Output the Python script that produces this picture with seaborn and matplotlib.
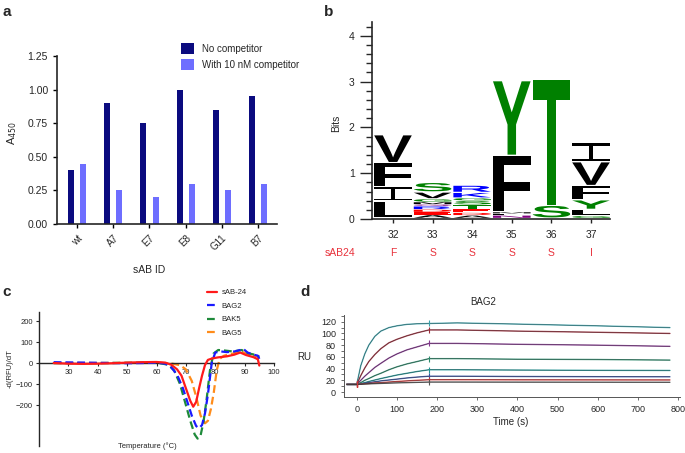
import numpy as np
import pandas as pd
import matplotlib
matplotlib.use("Agg")
import matplotlib.pyplot as plt
import seaborn as sns
from matplotlib.textpath import TextPath
from matplotlib.patches import PathPatch, Rectangle
from matplotlib.font_manager import FontProperties
from matplotlib.transforms import Affine2D
from matplotlib.ticker import MultipleLocator

# === Panel a: ELISA competition data ===
sab_ids = ["wt", "A7", "E7", "E8", "G11", "B7"]
no_competitor = [0.40, 0.90, 0.75, 1.00, 0.85, 0.95]
with_competitor = [0.45, 0.25, 0.20, 0.30, 0.25, 0.30]
conditions = ["No competitor", "With 10 nM competitor"]

# === Panel b: sequence logo (letters stacked bottom -> top, heights in bits) ===
logo_positions = [32, 33, 34, 35, 36, 37]
logo_letters = [
    ["L", "I", "F", "V"],
    ["A", "E", "D", "R", "Q", "M", "G", "V", "S"],
    ["A", "D", "E", "T", "S", "G", "K", "R"],
    ["N", "L", "M", "F", "Y"],
    ["S", "T"],
    ["G", "L", "Y", "F", "V", "I"],
]
logo_heights = [
    [0.37, 0.32, 0.52, 0.61],
    [0.07, 0.06, 0.06, 0.07, 0.04, 0.05, 0.07, 0.15, 0.21],
    [0.06, 0.06, 0.08, 0.09, 0.09, 0.06, 0.12, 0.16],
    [0.06, 0.04, 0.03, 1.24, 1.63],
    [0.28, 2.75],
    [0.05, 0.14, 0.21, 0.31, 0.52, 0.42],
]
sab24_residues = ["F", "S", "S", "S", "S", "I"]

# === Panel c: thermal melt derivative curves ===
t_sab24 = [25, 30, 35, 40, 45, 50, 55, 60, 63, 65, 67, 68.5, 70, 71.5, 72.5, 73.5, 74.5,
           75.5, 76.5, 77.5, 79, 81, 84, 86.5, 88.5, 90.5, 93, 94.5, 95]
v_sab24 = [0, -3, -4, -3, -1, 2, 4, 5, 2, -8, -30, -60, -120, -180, -208, -185, -120,
           -60, -10, 15, 22, 27, 32, 40, 50, 38, 28, 18, -12]
t_bag2 = [25, 30, 35, 40, 45, 50, 55, 60, 63, 65, 67, 69, 70.5, 72, 73.5, 74.5, 75.5,
          76.5, 77.5, 78.8, 80, 82, 84, 86.5, 88.5, 89.5, 91, 93, 94.5, 95]
v_bag2 = [4, 3, 2, 1, 0, -1, 0, 2, -3, -20, -55, -120, -185, -250, -300, -310, -295,
          -240, -150, 0, 50, 55, 52, 55, 62, 68, 50, 40, 35, 20]
t_bak5 = [25, 30, 40, 50, 60, 64, 66, 68, 70, 71.5, 73, 74, 75, 76, 77, 78.2, 79.4,
          81, 83, 86, 89, 91.3, 94, 95]
v_bak5 = [0, 0, 0, 1, 2, -8, -35, -100, -200, -275, -340, -360, -345, -280, -180, -35, 45,
          62, 60, 55, 62, 46, 38, 30]
t_bag5 = [25, 30, 40, 50, 60, 65, 68, 70, 72, 73.5, 75, 76.5, 77.5, 78.5, 79.5, 80.5,
          81.5, 83, 86, 88.5, 91.5, 94, 95]
v_bag5 = [0, 0, 0, 1, 2, -2, -10, -30, -85, -160, -250, -287, -275, -220, -140, -35,
          20, 35, 45, 57, 40, 33, 25]

# === Panel d: SPR sensorgrams for BAG2 ===
spr_time = [-25, 0, 10, 20, 30, 45, 60, 80, 100, 125, 150, 180, 250, 400, 600, 780]
spr_curves = [
    [13, 13, 45, 65, 80, 95, 104, 110, 113, 115.5, 116.5, 117, 118, 116, 113, 110],
    [13, 13, 28, 41, 52, 64, 74, 84, 90, 96, 101, 106, 106, 104, 102, 100],
    [13, 13, 20, 27, 33, 42, 49, 58, 65, 72, 77, 83, 83, 81.5, 80, 78],
    [13, 13, 16, 20, 23, 28, 32, 38, 43, 48, 52, 57, 57, 56, 55.5, 54.5],
    [13, 13, 14.5, 16, 18, 20.5, 23, 26, 29, 32, 35, 38, 38, 37.5, 37, 36.8],
    [13, 13, 14, 15, 16, 17.5, 19, 20.5, 22, 24, 25.5, 27, 27, 26.5, 26.2, 26],
    [13, 13, 13.5, 14, 14.5, 15.5, 16, 17, 18, 19, 20, 21, 21, 20.8, 20.7, 20.6],
    [13, 13, 13.3, 13.6, 13.9, 14.3, 14.7, 15.2, 15.6, 16, 16.5, 17, 17, 16.9, 16.8, 16.7],
]
spr_colors = ["#3a9fa8", "#9a2c3a", "#84378f", "#2c8a6c", "#1f9494", "#3550a0", "#cf3434", "#555555"]

# === Figure setup ===
sns.set_style("ticks")
plt.rcParams['font.family'] = ['Liberation Sans', 'DejaVu Sans']
plt.rcParams['axes.linewidth'] = 1.0

W, H = 685, 453
fig = plt.figure(figsize=(W / 100, H / 100), dpi=100)


def box(l, t, r, b):
    return [l / W, 1 - b / H, (r - l) / W, (b - t) / H]


# ---------- panel a ----------
ax_a = fig.add_axes(box(57, 56, 277, 224))
df_a = pd.DataFrame({
    "sab": sab_ids * 2,
    "condition": [conditions[0]] * len(sab_ids) + [conditions[1]] * len(sab_ids),
    "a450": no_competitor + with_competitor,
})
sns.barplot(data=df_a, x="sab", y="a450", hue="condition", order=sab_ids, hue_order=conditions,
            palette={conditions[0]: "#0b0b7f", conditions[1]: "#6e6eff"}, saturation=1,
            width=0.67, gap=0.5, linewidth=0, errorbar=None, ax=ax_a)
ax_a.set_xlim(-0.56, 5.53)
ax_a.set_ylim(0, 1.25)
ax_a.set_yticks([0, 0.25, 0.5, 0.75, 1.0, 1.25])
ax_a.set_yticklabels(["0.00", "0.25", "0.50", "0.75", "1.00", "1.25"], fontsize=7.5)
ax_a.set_xticks(range(len(sab_ids)))
ax_a.set_xticklabels(sab_ids, rotation=45, ha="right", rotation_mode="anchor", fontsize=7)
ax_a.tick_params(length=3, width=1, color="black")
sns.despine(ax=ax_a)
for s in ax_a.spines.values():
    s.set_linewidth(1.2)
ax_a.set_xlabel("sAB ID", fontsize=7.5)
ax_a.xaxis.set_label_coords(0.42, -0.274)
ax_a.xaxis.label.set_va("center")
ax_a.set_ylabel("A$_{450}$", fontsize=8)
ax_a.yaxis.set_label_coords(-0.205, 0.54)
ax_a.yaxis.label.set(va="center", ha="center")
ax_a.legend(loc="upper left", bbox_to_anchor=(181 / W, 1 - 43 / H), bbox_transform=fig.transFigure,
            frameon=False, fontsize=7, handlelength=1.3, handleheight=1.3, labelspacing=0.55,
            handletextpad=0.9, borderpad=0, borderaxespad=0)

# ---------- panel b ----------
ax_b = fig.add_axes(box(372, 22, 610, 219))
letter_colors = {}
for ch in "GSTYC":
    letter_colors[ch] = "#008000"
for ch in "KRH":
    letter_colors[ch] = "#0000ff"
for ch in "DE":
    letter_colors[ch] = "#ff0000"
for ch in "NQ":
    letter_colors[ch] = "#800080"
for ch in "AVLIPWFM":
    letter_colors[ch] = "#000000"

fp_sans = FontProperties(family="Liberation Sans", weight="bold")
col_width = 0.95
for pos, letters, heights in zip(logo_positions, logo_letters, logo_heights):
    base = 0.02
    for ch, h in zip(letters, heights):
        pad = min(0.015, h * 0.1)
        y0, hh = base + pad, h - 2 * pad
        if ch == "I":
            # serif "I": two thin full-width bars joined by a thin stem
            bar = hh * 0.14
            stem = col_width * 0.1
            for yb in (y0, y0 + hh - bar):
                ax_b.add_patch(Rectangle((pos - col_width / 2, yb), col_width, bar,
                                         fc=letter_colors[ch], ec="none"))
            ax_b.add_patch(Rectangle((pos - stem / 2, y0), stem, hh, fc=letter_colors[ch], ec="none"))
        else:
            tp = TextPath((0, 0), ch, size=1, prop=fp_sans)
            bb = tp.get_extents()
            tr = (Affine2D().translate(-bb.x0, -bb.y0)
                  .scale(col_width / bb.width, hh / bb.height)
                  .translate(pos - col_width / 2, y0))
            ax_b.add_patch(PathPatch(tr.transform_path(tp), fc=letter_colors[ch], ec="none"))
        base += h
ax_b.set_xlim(31.47, 37.48)
ax_b.set_ylim(0, 4.3)
ax_b.set_xticks(logo_positions)
ax_b.set_xticklabels([str(p) for p in logo_positions], fontsize=7.5)
ax_b.set_yticks([0, 1, 2, 3, 4])
ax_b.set_yticklabels(["0", "1", "2", "3", "4"], fontsize=7.5)
ax_b.yaxis.set_minor_locator(MultipleLocator(0.2))
ax_b.tick_params(axis="y", which="major", length=9, width=1)
ax_b.tick_params(axis="y", which="minor", length=4, width=1)
ax_b.tick_params(axis="x", length=3, width=1, pad=5)
sns.despine(ax=ax_b)
for s in ax_b.spines.values():
    s.set_linewidth(1.2)
ax_b.set_ylabel("Bits", fontsize=7.5)
ax_b.yaxis.set_label_coords(-0.151, 0.487)
ax_b.yaxis.label.set(va="center", ha="center")
red_txt = "#e8323c"
btrans = ax_b.get_xaxis_transform()
ax_b.text(31.05, -0.173, "sAB24", color=red_txt, fontsize=7.5, ha="right", va="center", transform=btrans)
for pos, res in zip(logo_positions, sab24_residues):
    ax_b.text(pos, -0.173, res, color=red_txt, fontsize=7.5, ha="center", va="center", transform=btrans)

# ---------- panel c ----------
ax_c = fig.add_axes(box(39, 312, 274, 446))
sns.lineplot(x=t_sab24, y=v_sab24, color="#ff1a1a", lw=1.6, label="sAB-24", zorder=5, ax=ax_c)
sns.lineplot(x=t_bag2, y=v_bag2, color="#1a1aff", lw=1.6, ls=(0, (3.5, 1.8)), label="BAG2", zorder=4, ax=ax_c)
sns.lineplot(x=t_bak5, y=v_bak5, color="#1e8a3a", lw=1.6, ls=(0, (3.5, 1.8)), label="BAK5", zorder=3, ax=ax_c)
sns.lineplot(x=t_bag5, y=v_bag5, color="#ff8c1a", lw=1.6, ls=(0, (3.5, 1.8)), label="BAG5", zorder=2, ax=ax_c)
ax_c.set_xlim(20, 100)
ax_c.set_ylim(-395, 243)
ax_c.spines["bottom"].set_position(("data", 0))
sns.despine(ax=ax_c)
ax_c.set_xticks(range(30, 101, 10))
ax_c.set_yticks([-200, -100, 0, 100, 200])
ax_c.tick_params(labelsize=5.5, length=2.5, width=0.8, pad=2)
ax_c.set_xlabel("Temperature (\u00b0C)", fontsize=5.5)
ax_c.xaxis.set_label_coords(0.46, 0.0)
ax_c.xaxis.label.set_va("center")
ax_c.set_ylabel("-d(RFU)/dT", fontsize=5.5)
ax_c.yaxis.set_label_coords(-0.123, 0.58)
ax_c.yaxis.label.set(va="center", ha="center")
ax_c.legend(loc="upper left", bbox_to_anchor=(207 / W, 1 - 289 / H), bbox_transform=fig.transFigure,
            frameon=False, fontsize=5.5, handlelength=1.3, labelspacing=0.8, handletextpad=0.6,
            borderpad=0, borderaxespad=0)

# ---------- panel d ----------
ax_d = fig.add_axes(box(343.5, 315, 680, 397))
for vals, col in zip(spr_curves, spr_colors):
    sns.lineplot(x=spr_time, y=vals, color=col, lw=1.0, alpha=0.85, ax=ax_d)
    sns.lineplot(x=spr_time, y=vals, color="black", lw=0.3, alpha=0.6, ax=ax_d)
    ax_d.plot([180], [vals[spr_time.index(180)]], marker="|", ms=5, mew=0.8, color=col)
    ax_d.plot([0], [vals[spr_time.index(0)]], marker="|", ms=4, mew=0.8, color="#cf3434")
ax_d.set_xlim(-33, 805)
ax_d.set_ylim(-8.5, 131.5)
ax_d.set_xticks(range(0, 801, 100))
ax_d.set_yticks(range(0, 121, 20))
ax_d.yaxis.set_minor_locator(MultipleLocator(10))
sns.despine(ax=ax_d)
for s in ax_d.spines.values():
    s.set_linewidth(0.7)
    s.set_color("#555555")
ax_d.tick_params(labelsize=6.5, length=2, width=0.6, color="#555555")
ax_d.tick_params(axis="y", which="minor", length=2, width=0.6, color="#555555")
ax_d.set_xlabel("Time (s)", fontsize=7)
ax_d.xaxis.set_label_coords(0.498, -0.305)
ax_d.xaxis.label.set_va("center")
ax_d.set_ylabel("RU", fontsize=7, rotation=0)
ax_d.yaxis.set_label_coords(-0.117, 0.488)
ax_d.yaxis.label.set(va="center", ha="center")
ax_d.text(0.415, 1.159, "BAG2", fontsize=7, ha="center", va="center", transform=ax_d.transAxes)

# ---------- panel letters ----------
for lab, (px, py) in zip("abcd", [(7, 12), (329, 12), (7, 292), (305, 292)]):
    fig.text(px / W, 1 - py / H, lab, fontsize=11, fontweight="bold", ha="center", va="center")

plt.savefig("out.png", dpi=100)
